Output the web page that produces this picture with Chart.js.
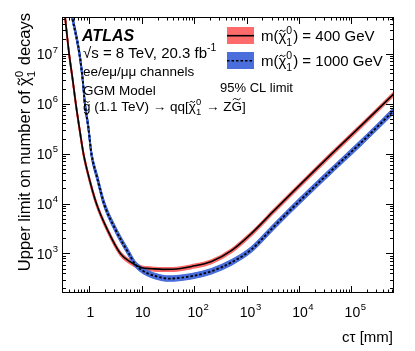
<!DOCTYPE html>
<html lang="en">
<head>
<meta charset="UTF-8">
<title>Upper limit on neutralino decays</title>
<script src="https://cdn.jsdelivr.net/npm/chart.js@4.4.1/dist/chart.umd.min.js"></script>
<style>
    body { margin: 0; background: #fff; }
    canvas { display: block; }
</style>
</head>
<body>
<canvas id="limit-chart" width="415" height="351"></canvas>
<script>
// c*tau [mm] and 95% CL upper limits
const ctau400 = [0.34, 0.41, 0.476, 0.55, 0.646, 0.77, 0.99, 1.36, 2.2, 3.9, 6, 10, 16, 25, 40, 89, 214, 511, 1230, 3340, 40000, 148000, 650000];
const limit400 = [6e7, 1e7, 3.2e6, 1e6, 3.2e5, 1e5, 3.2e4, 1e4, 3000, 1000, 680, 520, 495, 482, 485, 550, 692, 1140, 2500, 7200, 94000, 350000, 1580000];

const ctau1000 = [0.46, 0.645, 0.74, 0.82, 0.96, 1.09, 1.42, 1.9, 3.15, 5.65, 7.4, 11, 17, 33, 89, 214, 511, 1230, 2930, 7000, 40000, 148000, 650000];
const limit1000 = [6e7, 1e7, 3.2e6, 1e6, 3.2e5, 1e5, 3.2e4, 1e4, 3000, 1000, 620, 437, 360, 315, 352, 443, 661, 1200, 3020, 7590, 44000, 160000, 730000];

const xTickValues = [1, 10, 100, 1000, 1e4, 1e5];
const xTickLabels = ['1', '10', '10^2', '10^3', '10^4', '10^5'];
const yTickValues = [1e3, 1e4, 1e5, 1e6, 1e7];
const yTickLabels = ['10^3', '10^4', '10^5', '10^6', '10^7'];

const RED = '#ff6b6b';
const BLUE = '#4a6fdc';
const FAMILY = '"Liberation Sans", Arial, sans-serif';

function pts(xs, ys) {
    return xs.map((x, i) => ({ x: x, y: ys[i] }));
}

function fontStr(size, style) {
    return (style || '') + ' ' + size + 'px ' + FAMILY;
}

function partWidth(ctx, p, size, style) {
    if (p.k === 'sup' || p.k === 'sub') {
        ctx.font = fontStr(size * 0.7, style);
        return ctx.measureText(p.t).width;
    }
    if (p.k === 'ss') {
        ctx.font = fontStr(size * 0.7, style);
        return Math.max(ctx.measureText(p.t).width, ctx.measureText(p.s).width) + 1;
    }
    ctx.font = fontStr(size, style);
    return ctx.measureText(p.t).width;
}

function drawTilde(ctx, cx, cy, w, size) {
    const a = size * 0.06;
    ctx.save();
    ctx.lineWidth = Math.max(0.9, size * 0.065);
    ctx.beginPath();
    ctx.moveTo(cx - w / 2, cy + a);
    ctx.quadraticCurveTo(cx - w / 4, cy - 2.2 * a, cx, cy);
    ctx.quadraticCurveTo(cx + w / 4, cy + 2.2 * a, cx + w / 2, cy - a);
    ctx.stroke();
    ctx.restore();
}

// small rich-text helper: normal text, sup, sub, stacked sup/sub, tilde accents
function drawRich(ctx, x, y, parts, size, align, style) {
    let w = 0;
    parts.forEach(p => { w += partWidth(ctx, p, size, style); });
    let cx = align === 'right' ? x - w : (align === 'center' ? x - w / 2 : x);
    ctx.textAlign = 'left';
    ctx.textBaseline = 'alphabetic';
    parts.forEach(p => {
        const pw = partWidth(ctx, p, size, style);
        if (p.k === 'sup') {
            ctx.font = fontStr(size * 0.7, style);
            ctx.fillText(p.t, cx, y - size * 0.42);
        } else if (p.k === 'sub') {
            ctx.font = fontStr(size * 0.7, style);
            ctx.fillText(p.t, cx, y + size * 0.25);
        } else if (p.k === 'ss') {
            ctx.font = fontStr(size * 0.7, style);
            ctx.fillText(p.t, cx, y - size * 0.45);
            ctx.fillText(p.s, cx, y + size * 0.3);
        } else {
            ctx.font = fontStr(size, style);
            ctx.fillText(p.t, cx, y);
            if (p.tilde) drawTilde(ctx, cx + pw / 2, y - size * (p.cap ? 0.88 : 0.68), pw * 0.75, size);
        }
        cx += pw;
    });
    return w;
}

function powerLabel(ctx, label, x, y, size, align) {
    const bits = label.split('^');
    ctx.font = fontStr(size);
    const bw = ctx.measureText(bits[0]).width;
    ctx.font = fontStr(size * 0.68);
    const ew = bits[1] ? ctx.measureText(bits[1]).width + 0.5 : 0;
    let x0;
    if (align === 'right') x0 = x - bw - ew;
    else x0 = x - bw / 2 + 1;
    ctx.textAlign = 'left';
    ctx.textBaseline = 'alphabetic';
    ctx.font = fontStr(size);
    ctx.fillText(bits[0], x0, y);
    if (bits[1]) {
        ctx.font = fontStr(size * 0.68);
        ctx.fillText(bits[1], x0 + bw + 0.5, y - size * 0.47);
    }
}

function logTicks(min, max) {
    const out = [];
    for (let d = Math.floor(Math.log10(min)); d <= Math.ceil(Math.log10(max)); d++) {
        for (let k = 1; k <= 9; k++) {
            const v = k * Math.pow(10, d);
            if (v >= min && v <= max) out.push({ v: v, major: k === 1 });
        }
    }
    return out;
}

// uncertainty bands: the curve is smeared vertically by a few pixels
const bandDraw = {
    id: 'bandDraw',
    beforeDatasetDraw(chart, args) {
        const ds = chart.data.datasets[args.index];
        if (!ds.band) return;
        const a = chart.chartArea, c = chart.ctx;
        c.save();
        c.beginPath();
        c.rect(a.left, a.top, a.right - a.left, a.bottom - a.top);
        c.clip();
        for (let dy = ds.band[0]; dy <= ds.band[1] + 0.01; dy += 0.5) {
            c.save();
            c.translate(0, dy);
            args.meta.dataset.draw(c, a);
            c.restore();
        }
        c.restore();
        return false;
    }
};

const decor = {
    id: 'decor',
    beforeDraw(chart) {
        const c = chart.ctx;
        c.save();
        c.fillStyle = '#fff';
        c.fillRect(0, 0, chart.width, chart.height);
        c.restore();
    },
    afterDraw(chart) {
        const c = chart.ctx;
        const a = chart.chartArea;
        const xs = chart.scales.x, ys = chart.scales.y;
        c.save();
        c.strokeStyle = '#000';
        c.fillStyle = '#000';
        c.lineWidth = 1;

        // frame
        c.strokeRect(a.left + 0.5, a.top + 0.5, a.right - a.left - 1, a.bottom - a.top - 1);

        // ticks on all four sides, pointing inwards
        c.beginPath();
        logTicks(xs.min, xs.max).forEach(t => {
            const px = Math.round(xs.getPixelForValue(t.v)) + 0.5;
            const len = t.major ? 7 : 3.5;
            c.moveTo(px, a.bottom); c.lineTo(px, a.bottom - len);
            c.moveTo(px, a.top); c.lineTo(px, a.top + len);
        });
        logTicks(ys.min, ys.max).forEach(t => {
            const py = Math.round(ys.getPixelForValue(t.v)) + 0.5;
            const len = t.major ? 8 : 4;
            c.moveTo(a.left, py); c.lineTo(a.left + len, py);
            c.moveTo(a.right, py); c.lineTo(a.right - len, py);
        });
        c.stroke();

        // tick labels
        xTickValues.forEach((v, i) => {
            powerLabel(c, xTickLabels[i], xs.getPixelForValue(v), 316.5, 14, 'center');
        });
        yTickValues.forEach((v, i) => {
            powerLabel(c, yTickLabels[i], 58, ys.getPixelForValue(v) + 5.5, 14, 'right');
        });

        // axis titles
        drawRich(c, 393, 342, [{ t: 'c\u03c4 [mm]' }], 15, 'right');
        c.save();
        c.translate(30, 0);
        c.rotate(-Math.PI / 2);
        drawRich(c, -13, 0, [
            { t: 'Upper limit on number of ' },
            { t: '\u03c7', tilde: true },
            { k: 'ss', t: '0', s: '1' },
            { t: ' decays' }
        ], 16.5, 'right');
        c.restore();

        // ATLAS label block
        drawRich(c, 82, 41, [{ t: 'ATLAS' }], 16, 'left', 'italic bold');
        drawRich(c, 83, 57.5, [{ t: '\u221as = 8 TeV, 20.3 fb' }, { k: 'sup', t: '-1' }], 15, 'left');
        drawRich(c, 83, 76, [{ t: 'ee/e\u03bc/\u03bc\u03bc channels' }], 13.5, 'left');
        drawRich(c, 83, 95, [{ t: 'GGM Model' }], 13.5, 'left');
        drawRich(c, 83, 111, [
            { t: 'g', tilde: true },
            { t: ' (1.1 TeV) \u2192 qq[' },
            { t: '\u03c7', tilde: true },
            { k: 'ss', t: '0', s: '1' },
            { t: ' \u2192 Z' },
            { t: 'G', tilde: true, cap: true },
            { t: ']' }
        ], 13.5, 'left');
        drawRich(c, 220, 91.5, [{ t: '95% CL limit' }], 13, 'left');

        // legend
        const legend = [
            { fill: RED, dash: [], text: '400 GeV', y: 27 },
            { fill: BLUE, dash: [2.5, 2], text: '1000 GeV', y: 52 }
        ];
        legend.forEach(l => {
            c.fillStyle = l.fill;
            c.fillRect(227, l.y, 27, 17);
            c.strokeStyle = '#000';
            c.lineWidth = 1.6;
            c.setLineDash(l.dash);
            c.beginPath();
            c.moveTo(227, l.y + 8.7);
            c.lineTo(254, l.y + 8.7);
            c.stroke();
            c.setLineDash([]);
            c.fillStyle = '#000';
            drawRich(c, 261, l.y + 14, [
                { t: 'm(' },
                { t: '\u03c7', tilde: true },
                { k: 'ss', t: '0', s: '1' },
                { t: ') = ' + l.text }
            ], 15, 'left');
        });
        c.restore();
    }
};

new Chart(document.getElementById('limit-chart'), {
    type: 'line',
    data: {
        datasets: [
            { label: '1000 GeV', data: pts(ctau1000, limit1000), borderColor: '#000', borderWidth: 1.8, borderDash: [2.5, 2], order: 0 },
            { label: '400 GeV', data: pts(ctau400, limit400), borderColor: '#000', borderWidth: 1.6, order: 1 },
            { label: '1000 GeV band', data: pts(ctau1000, limit1000), borderColor: BLUE, borderWidth: 1.5, band: [-2.5, 2.5], order: 2 },
            { label: '400 GeV band', data: pts(ctau400, limit400), borderColor: RED, borderWidth: 1.5, band: [-1.5, 2], order: 3 }
        ]
    },
    options: {
        responsive: false,
        animation: false,
        devicePixelRatio: 1,
        layout: { padding: { left: 62, top: 17, right: 21, bottom: 58 } },
        plugins: { legend: { display: false }, tooltip: { enabled: false } },
        elements: {
            point: { radius: 0 },
            line: { cubicInterpolationMode: 'monotone', fill: false, borderJoinStyle: 'round' }
        },
        scales: {
            x: { type: 'logarithmic', min: 0.347, max: 650000, display: false },
            y: { type: 'logarithmic', min: 162, max: 5.4e7, display: false }
        }
    },
    plugins: [bandDraw, decor]
});
</script>
</body>
</html>
